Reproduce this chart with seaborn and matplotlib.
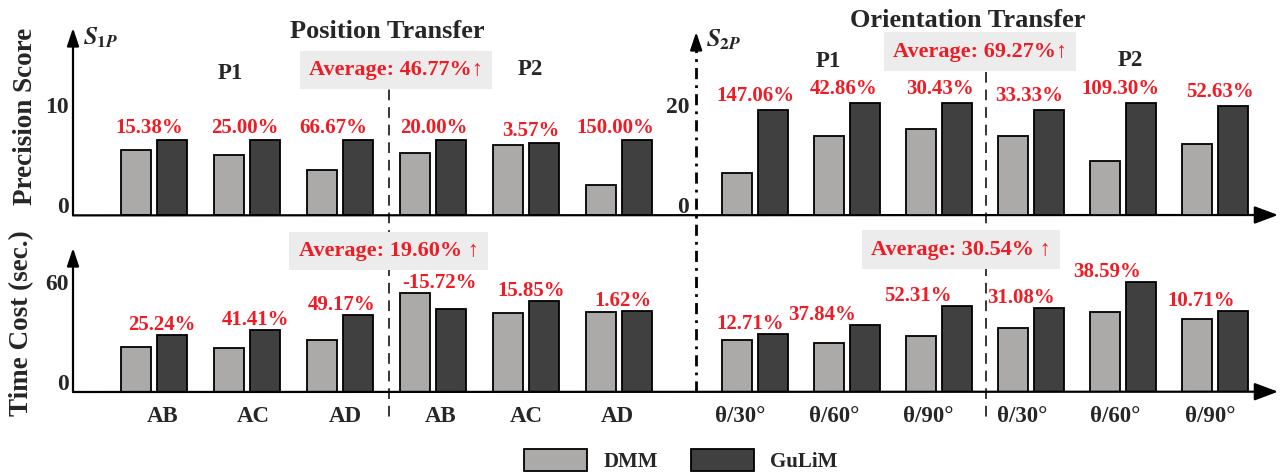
import numpy as np
import pandas as pd
import matplotlib
matplotlib.use("Agg")
import matplotlib.pyplot as plt
import matplotlib.transforms as mtransforms
from matplotlib.lines import Line2D
import seaborn as sns

# ---------------- data ----------------
methods = ["DMM", "GuLiM"]
pos_pairs = ["AB", "AC", "AD", "AB", "AC", "AD"]
ori_pairs = ["θ/30°", "θ/60°", "θ/90°", "θ/30°", "θ/60°", "θ/90°"]

# precision score (S_1P for position transfer, S_2P for orientation transfer)
prec_pos_dmm = [6.5, 6.0, 4.5, 6.25, 7.0, 3.0]
prec_pos_gulim = [7.5, 7.5, 7.5, 7.5, 7.25, 7.5]
prec_ori_dmm = [8.5, 15.75, 17.25, 15.75, 10.75, 14.25]
prec_ori_gulim = [21.0, 22.5, 22.5, 21.0, 22.5, 21.75]

# time cost in seconds
time_pos_dmm = [27.0, 26.0, 31.0, 59.0, 47.0, 47.6]
time_pos_gulim = [33.8, 36.8, 46.2, 49.7, 54.45, 48.4]
time_ori_dmm = [30.8, 29.0, 33.7, 38.5, 47.6, 43.8]
time_ori_gulim = [34.7, 40.0, 51.3, 50.5, 66.0, 48.5]

prec_pos_gain = ["15.38%", "25.00%", "66.67%", "20.00%", "3.57%", "150.00%"]
prec_ori_gain = ["147.06%", "42.86%", "30.43%", "33.33%", "109.30%", "52.63%"]
time_pos_gain = ["25.24%", "41.41%", "49.17%", "-15.72%", "15.85%", "1.62%"]
time_ori_gain = ["12.71%", "37.84%", "52.31%", "31.08%", "38.59%", "10.71%"]

avg_prec_pos = "Average: 46.77%↑"
avg_prec_ori = "Average: 69.27%↑"
avg_time_pos = "Average: 19.60% ↑"
avg_time_ori = "Average: 30.54% ↑"

# ---------------- style ----------------
sns.set_theme(style="white")
plt.rcParams["font.family"] = ["Liberation Serif", "DejaVu Serif"]
plt.rcParams["font.weight"] = "bold"
plt.rcParams["mathtext.fontset"] = "stix"

RED = "#ee1c25"
BOX = "#ececec"
palette = {"DMM": "#aca8a8", "GuLiM": "#404040"}

W, H = 1280, 476
fig = plt.figure(figsize=(W / 100, H / 100), dpi=100)


def fx(p):
    return p / W


def fy(p):
    return 1 - p / H


# group positions along the shared x axis
pos_x = np.arange(6, dtype=float)
ori_x = 6.46 + 0.99 * np.arange(6)
axis2_x = 5.83
sep_left, sep_right = 2.53, 8.95
xlim = (-0.871, 12.086)

ax_top = fig.add_axes([fx(73), fy(215), fx(1278) - fx(73), fy(28) - fy(215)])
ax_top_r = ax_top.twinx()
ax_bot = fig.add_axes([fx(73), fy(391.7), fx(1278) - fx(73), fy(248) - fy(391.7)])


def frame(xs, dmm, gulim):
    return pd.DataFrame({
        "x": np.concatenate([xs, xs]),
        "value": list(dmm) + list(gulim),
        "method": ["DMM"] * len(dmm) + ["GuLiM"] * len(gulim),
    })


bar_kw = dict(x="x", y="value", hue="method", hue_order=methods, palette=palette,
              native_scale=True, width=0.79, gap=0.18, edgecolor="black",
              linewidth=1.3, errorbar=None)

sns.barplot(data=frame(pos_x, prec_pos_dmm, prec_pos_gulim), ax=ax_top, legend=False, **bar_kw)
sns.barplot(data=frame(ori_x, prec_ori_dmm, prec_ori_gulim), ax=ax_top_r, legend=False, **bar_kw)
sns.barplot(data=frame(np.concatenate([pos_x, ori_x]),
                       time_pos_dmm + time_ori_dmm,
                       time_pos_gulim + time_ori_gulim),
            ax=ax_bot, legend=True, **bar_kw)

handles, labels = ax_bot.get_legend_handles_labels()
ax_bot.get_legend().remove()

ax_top.set_ylim(0, 18.7)
ax_top_r.set_ylim(0, 37.4)
ax_bot.set_ylim(0, 86.2)
for ax in (ax_top, ax_top_r, ax_bot):
    ax.set_xlim(*xlim)
    ax.set_xlabel("")
    ax.set_ylabel("")
    for s in ax.spines.values():
        s.set_visible(False)
    ax.grid(False)
    ax.tick_params(axis="both", length=0, labelsize=17, pad=3)
ax_top_r.patch.set_visible(False)

ax_top.set_xticks([])
ax_top.set_yticks([0, 10])
ax_top.set_yticklabels(["0", "10"])
ax_top_r.yaxis.set_ticks_position("left")
ax_top_r.spines["left"].set_position(("data", axis2_x))
ax_top_r.set_yticks([0, 20])
ax_top_r.set_yticklabels(["0", "20"])
ax_top_r.tick_params(axis="y", pad=5)
ax_bot.set_yticks([0, 60])
ax_bot.set_yticklabels(["0", "60"])
ax_bot.set_xticks(np.concatenate([pos_x, ori_x]))
ax_bot.set_xticklabels(pos_pairs + ori_pairs)
ax_bot.tick_params(axis="x", labelsize=16.5, pad=10)

lift = mtransforms.ScaledTranslation(0, 7 / 72, fig.dpi_scale_trans)
for ax in (ax_top, ax_top_r, ax_bot):
    for lbl in ax.get_yticklabels():
        lbl.set_transform(lbl.get_transform() + lift)

# category labels sit slightly off the pair centres
xtick_nudge_px = [9, 6.5, 5, 7.5, 0, -1.5, -15, -13, -11, -9, -7.5, -5]
for lbl, dx in zip(ax_bot.get_xticklabels(), xtick_nudge_px):
    lbl.set_transform(lbl.get_transform()
                      + mtransforms.ScaledTranslation(dx / 100, 0, fig.dpi_scale_trans))

# axis lines with arrow heads
arrow_y = dict(arrowstyle="-|>,head_length=0.9,head_width=0.3", lw=1.6, color="black",
               shrinkA=0, shrinkB=0, mutation_scale=12)
arrow_x = dict(arrowstyle="-|>,head_length=1.2,head_width=0.45", lw=1.6, color="black",
               shrinkA=0, shrinkB=0, mutation_scale=12)
for ax in (ax_top, ax_bot):
    ax.annotate("", xy=(0, 1), xytext=(0, 0), xycoords="axes fraction",
                arrowprops=arrow_y, annotation_clip=False)
    ax.annotate("", xy=(1, 0), xytext=(0, -0.002), xycoords="axes fraction",
                arrowprops=arrow_x, annotation_clip=False)

# separators drawn across both rows
blend = mtransforms.blended_transform_factory(ax_bot.transData, fig.transFigure)
for xs in (sep_left, sep_right):
    fig.add_artist(Line2D([xs, xs], [fy(72), fy(421)], transform=blend, color="black",
                          lw=1.1, dashes=(7, 4.5), zorder=1))
fig.add_artist(Line2D([axis2_x, axis2_x], [fy(392), fy(40)], transform=blend, color="black",
                      lw=2.0, linestyle=(0, (4, 2.2, 1, 2.2)), zorder=1))
ax_bot.annotate("", xy=(axis2_x, fy(32)), xytext=(axis2_x, fy(44)),
                xycoords=blend, arrowprops=arrow_y, annotation_clip=False)


# improvement labels above each pair
def gain_labels(ax, xs, a, b, texts, dxs, dy):
    for x, v1, v2, t, dx in zip(xs, a, b, texts, dxs):
        ax.annotate(t, xy=(x, max(v1, v2)), xytext=(dx, dy), textcoords="offset pixels",
                    ha="center", va="baseline", color=RED, fontsize=15,
                    fontweight="bold", annotation_clip=False)


gain_labels(ax_top, pos_x, prec_pos_dmm, prec_pos_gulim, prec_pos_gain,
            [-5, -2, -7, 1, 5, -4], 7)
gain_labels(ax_top_r, ori_x, prec_ori_dmm, prec_ori_gulim, prec_ori_gain,
            [1, -3, 1, -2, -3, 5], 9)
gain_labels(ax_bot, pos_x, time_pos_dmm, time_pos_gulim, time_pos_gain,
            [8, 8, 2, 6, 5, 4], 5)
gain_labels(ax_bot, ori_x, time_ori_dmm, time_ori_gulim, time_ori_gain,
            [-5, -25, -21, -10, -16, -14], 5)

# titles, sub-group tags and averages
fig.text(fx(387), fy(38), "Position Transfer", ha="center", va="baseline", fontsize=19)
fig.text(fx(968), fy(27), "Orientation Transfer", ha="center", va="baseline", fontsize=19)
for x, y, t in ((230, 79, "P1"), (530, 75, "P2"), (828, 67, "P1"), (1130, 66, "P2")):
    fig.text(fx(x), fy(y), t, ha="center", va="baseline", fontsize=16.5)

box = dict(boxstyle="square,pad=0.42", fc=BOX, ec="none")
for x, y, t in ((396, 70, avg_prec_pos), (980, 51.7, avg_prec_ori),
                (388.5, 251, avg_time_pos), (961, 249.5, avg_time_ori)):
    fig.text(fx(x), fy(y), t, ha="center", va="center", fontsize=16, color=RED,
             bbox=box, zorder=3)

fig.text(fx(83), fy(44), r"$S_{1P}$", ha="left", va="baseline", fontsize=18)
fig.text(fx(706), fy(46), r"$S_{2P}$", ha="left", va="baseline", fontsize=18)

fig.text(fx(26), fy(116), "Precision Score", rotation=90, ha="center", va="center",
         fontsize=19.5)
fig.text(fx(22), fy(323), "Time Cost (sec.)", rotation=90, ha="center", va="center",
         fontsize=19.5)

fig.legend(handles, labels, loc="upper center", bbox_to_anchor=(fx(681), fy(430)),
           ncol=2, frameon=False, handlelength=3.0, handleheight=1.25,
           handletextpad=0.8, columnspacing=1.6, borderpad=0.4,
           prop={"size": 15, "weight": "bold"})

fig.savefig("out.png", dpi=100)
